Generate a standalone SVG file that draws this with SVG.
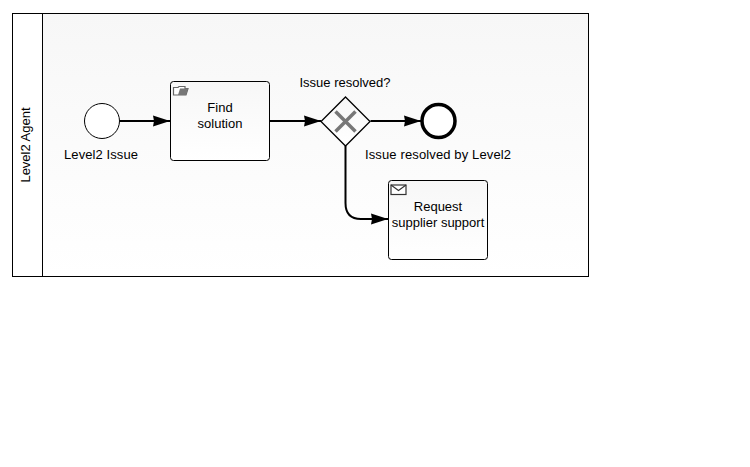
<svg xmlns="http://www.w3.org/2000/svg" width="750" height="467" viewBox="0 0 750 467">
<style>
text{font-family:"Liberation Sans",Arial,sans-serif;font-size:13px;fill:#000;text-anchor:middle}
.task{fill:url(#g);stroke:#000;stroke-width:1}
.flow{fill:none;stroke:#000;stroke-width:2}
</style>
<defs>
<linearGradient id="g" x1="0" y1="0" x2="0" y2="1"><stop offset="0" stop-color="#f7f7f7"/><stop offset="1" stop-color="#fff"/></linearGradient>
<marker id="a" markerUnits="userSpaceOnUse" markerWidth="17" markerHeight="12" refX="17" refY="6" orient="auto"><path d="M0 .5L17 6L0 11.500L1 6Z" fill="#000"/></marker>
</defs>
<rect width="750" height="467" fill="#fff"/>
<g id="pool">
<rect x="12.500" y="13.500" width="576" height="263" fill="url(#g)" stroke="#000"/>
<rect x="12.500" y="13.500" width="30" height="263" fill="#fff" stroke="#000"/>
<text transform="translate(30 145) rotate(-90)">Level2 Agent</text>
</g>
<g id="connectors">
<path class="flow" marker-end="url(#a)" d="M119.500 121H170"/>
<path class="flow" marker-end="url(#a)" d="M270 121H321"/>
<path class="flow" marker-end="url(#a)" d="M370.500 121H421"/>
<path class="flow" marker-end="url(#a)" d="M345.500 146V203Q345.500 219 361 219H388"/>
</g>
<g id="start">
<circle cx="102" cy="121" r="17.500" fill="#fff" stroke="#000"/>
<text x="101" y="159" textLength="74">Level2 Issue</text>
</g>
<g id="find">
<rect class="task" x="170.500" y="81.500" width="99" height="79" rx="3"/>
<path d="M173.500 95V87.500H178L179 86.500H185V88.500H188L186 95Z" fill="#fff" stroke="#666" stroke-width="1.200"/>
<path d="M180 88.500H188L186 95H178Z" fill="#777"/>
<text x="220" y="112">Find</text>
<text x="220" y="128">solution</text>
</g>
<g id="gateway">
<path d="M345.500 97L370 121.500L345.500 146L321 121.500Z" fill="url(#g)" stroke="#000" stroke-width="1.300"/>
<path d="M335.500 111.500L355.500 131.500M355.500 111.500L335.500 131.500" stroke="#777" stroke-width="3.500" fill="none"/>
<text x="345" y="87">Issue resolved?</text>
</g>
<g id="end">
<circle cx="438.500" cy="121" r="16.500" fill="#fff" stroke="#000" stroke-width="3.500"/>
<text x="438" y="159" textLength="146">Issue resolved by Level2</text>
</g>
<g id="request">
<rect class="task" x="388.500" y="180.500" width="99" height="79" rx="3"/>
<rect x="391" y="185" width="15" height="9.500" fill="#fff" stroke="#333" stroke-width="1.200"/>
<path d="M391 185L398.500 190.500L406 185" fill="none" stroke="#333" stroke-width="1.200"/>
<text x="438" y="211">Request</text>
<text x="438" y="227">supplier support</text>
</g>
</svg>
